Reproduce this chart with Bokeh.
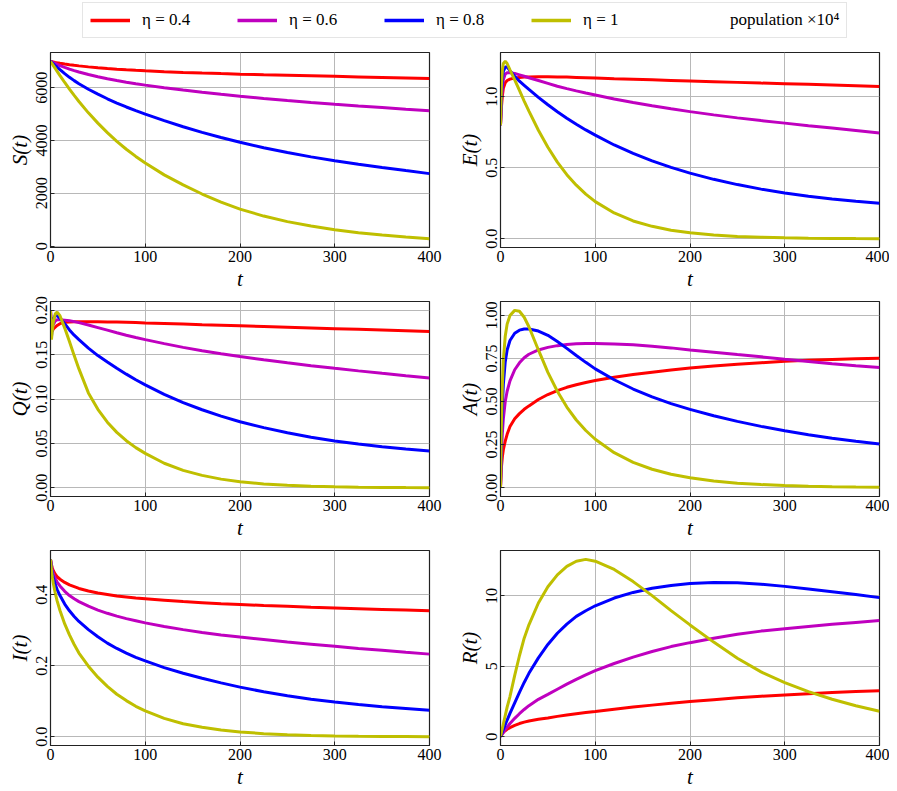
from bokeh.plotting import figure
from bokeh.models import Range1d, FixedTicker, PrintfTickFormatter, Legend, LegendItem
from bokeh.layouts import column, row
from bokeh.embed import file_html
from bokeh.resources import INLINE

# ---------------- data ----------------
T = [0, 1, 2, 3, 5, 7, 10, 15, 20, 25, 30, 40, 50, 60, 70, 80, 90, 100, 120, 140,
     160, 180, 200, 225, 250, 275, 300, 325, 350, 375, 400]

eta_labels = ["η = 0.4", "η = 0.6", "η = 0.8", "η = 1"]
extra_label = "population ×10⁴"
x_ticks = [0, 100, 200, 300, 400]

# S(t)
S_04 = [7000, 6992, 6984, 6976, 6961, 6947, 6928, 6898, 6872, 6850, 6829, 6791, 6757, 6728, 6702, 6680,
        6660, 6642, 6610, 6582, 6558, 6536, 6516, 6493, 6472, 6452, 6432, 6412, 6392, 6372, 6352]
S_06 = [7000, 6984, 6968, 6952, 6920, 6888, 6840, 6770, 6705, 6648, 6595, 6500, 6415, 6340, 6272, 6210,
        6153, 6100, 6002, 5912, 5828, 5750, 5678, 5595, 5518, 5445, 5376, 5311, 5249, 5188, 5128]
S_08 = [7000, 6968, 6936, 6904, 6840, 6777, 6684, 6535, 6395, 6270, 6155, 5945, 5757, 5583, 5422, 5272,
        5132, 5000, 4755, 4525, 4312, 4117, 3937, 3730, 3545, 3382, 3236, 3103, 2980, 2862, 2748]
S_10 = [7000, 6947, 6894, 6841, 6732, 6622, 6462, 6200, 5950, 5710, 5480, 5050, 4660, 4300, 3970, 3670,
        3400, 3150, 2700, 2320, 1975, 1670, 1405, 1140, 930, 765, 625, 510, 420, 345, 285]

# E(t)
E_04 = [0.80, 0.93, 1.01, 1.06, 1.10, 1.115, 1.125, 1.133, 1.137, 1.139, 1.140, 1.141, 1.141, 1.140, 1.139,
        1.137, 1.135, 1.133, 1.128, 1.124, 1.120, 1.116, 1.112, 1.107, 1.102, 1.097, 1.093, 1.088, 1.083,
        1.078, 1.073]
E_06 = [0.80, 0.97, 1.07, 1.12, 1.16, 1.17, 1.17, 1.165, 1.155, 1.145, 1.135, 1.115, 1.095, 1.075, 1.058,
        1.042, 1.027, 1.013, 0.985, 0.960, 0.937, 0.916, 0.896, 0.873, 0.852, 0.833, 0.815, 0.797, 0.780,
        0.763, 0.746]
E_08 = [0.80, 1.02, 1.13, 1.18, 1.21, 1.21, 1.185, 1.145, 1.110, 1.081, 1.052, 0.996, 0.944, 0.895, 0.850,
        0.807, 0.767, 0.730, 0.661, 0.602, 0.549, 0.503, 0.463, 0.419, 0.382, 0.350, 0.323, 0.300, 0.281,
        0.265, 0.250]
E_10 = [0.80, 1.08, 1.19, 1.235, 1.25, 1.235, 1.19, 1.12, 1.045, 0.97, 0.90, 0.765, 0.645, 0.54, 0.452,
        0.378, 0.315, 0.262, 0.182, 0.126, 0.088, 0.061, 0.043, 0.027, 0.017, 0.011, 0.007, 0.0045, 0.003,
        0.002, 0.0013]

# Q(t)
Q_04 = [0.20, 0.176, 0.177, 0.179, 0.181, 0.183, 0.185, 0.1865, 0.187, 0.1872, 0.1873, 0.1873, 0.1872,
        0.1870, 0.1868, 0.1865, 0.1862, 0.1858, 0.1852, 0.1845, 0.1838, 0.1832, 0.1826, 0.1818, 0.1810,
        0.1802, 0.1794, 0.1786, 0.1778, 0.1770, 0.1762]
Q_06 = [0.20, 0.175, 0.181, 0.184, 0.188, 0.1895, 0.1895, 0.1890, 0.1882, 0.1873, 0.1862, 0.1835, 0.1806,
        0.1777, 0.1748, 0.1720, 0.1694, 0.1670, 0.1625, 0.1583, 0.1545, 0.1511, 0.1479, 0.1443, 0.1409,
        0.1377, 0.1347, 0.1318, 0.1290, 0.1263, 0.1237]
Q_08 = [0.20, 0.170, 0.183, 0.190, 0.194, 0.194, 0.191, 0.185, 0.178, 0.172, 0.167, 0.1574, 0.149,
        0.1418, 0.1347, 0.1281, 0.1218, 0.116, 0.1054, 0.0961, 0.0880, 0.0808, 0.0745, 0.0678, 0.0620,
        0.0571, 0.0528, 0.0493, 0.0463, 0.0437, 0.0416]
Q_10 = [0.20, 0.167, 0.178, 0.187, 0.196, 0.198, 0.194, 0.180, 0.165, 0.149, 0.134, 0.107, 0.0885, 0.0740,
        0.0625, 0.0531, 0.0453, 0.0388, 0.0277, 0.0197, 0.0140, 0.0098, 0.0069, 0.0044, 0.0028, 0.0018,
        0.0011, 0.0007, 0.00045, 0.0003, 0.0002]

# A(t)
A_04 = [0.0, 0.12, 0.18, 0.22, 0.27, 0.31, 0.355, 0.40, 0.43, 0.455, 0.475, 0.512, 0.541, 0.564, 0.583,
        0.598, 0.611, 0.622, 0.641, 0.657, 0.671, 0.684, 0.695, 0.707, 0.717, 0.726, 0.734, 0.740, 0.745,
        0.749, 0.752]
A_06 = [0.0, 0.2, 0.32, 0.40, 0.50, 0.56, 0.62, 0.685, 0.725, 0.755, 0.775, 0.80, 0.815, 0.825, 0.832,
        0.836, 0.838, 0.838, 0.835, 0.83, 0.822, 0.812, 0.80, 0.787, 0.773, 0.76, 0.746, 0.733, 0.72,
        0.708, 0.698]
A_08 = [0.0, 0.3, 0.48, 0.60, 0.73, 0.80, 0.855, 0.897, 0.915, 0.922, 0.922, 0.91, 0.885, 0.849, 0.809,
        0.768, 0.728, 0.69, 0.627, 0.573, 0.527, 0.488, 0.455, 0.418, 0.385, 0.356, 0.330, 0.307, 0.287,
        0.269, 0.253]
A_10 = [0.0, 0.38, 0.60, 0.74, 0.88, 0.95, 1.0, 1.03, 1.025, 0.99, 0.935, 0.80, 0.67, 0.56, 0.468, 0.393,
        0.332, 0.281, 0.203, 0.147, 0.107, 0.078, 0.057, 0.039, 0.026, 0.018, 0.012, 0.008, 0.0055, 0.0037,
        0.0025]

# I(t)
I_04 = [0.50, 0.485, 0.475, 0.468, 0.458, 0.451, 0.444, 0.435, 0.428, 0.423, 0.418, 0.411, 0.405, 0.401,
        0.397, 0.394, 0.391, 0.389, 0.385, 0.381, 0.378, 0.375, 0.373, 0.370, 0.368, 0.365, 0.363, 0.361,
        0.359, 0.357, 0.355]
I_06 = [0.50, 0.48, 0.468, 0.459, 0.446, 0.436, 0.425, 0.41, 0.398, 0.389, 0.381, 0.368, 0.357, 0.348,
        0.34, 0.333, 0.327, 0.321, 0.311, 0.302, 0.294, 0.287, 0.281, 0.274, 0.267, 0.261, 0.255, 0.249,
        0.244, 0.238, 0.233]
I_08 = [0.50, 0.475, 0.46, 0.448, 0.43, 0.415, 0.398, 0.374, 0.355, 0.339, 0.325, 0.302, 0.282, 0.264,
        0.249, 0.236, 0.224, 0.214, 0.195, 0.179, 0.165, 0.152, 0.14, 0.127, 0.116, 0.106, 0.098, 0.091,
        0.085, 0.08, 0.075]
I_10 = [0.50, 0.47, 0.449, 0.432, 0.405, 0.383, 0.356, 0.318, 0.287, 0.26, 0.236, 0.199, 0.168, 0.142,
        0.120, 0.102, 0.086, 0.073, 0.052, 0.037, 0.027, 0.019, 0.0137, 0.0089, 0.0058, 0.0038, 0.0025,
        0.0016, 0.001, 0.0007, 0.0005]

# R(t)
R_04 = [0.0, 0.12, 0.22, 0.30, 0.42, 0.52, 0.64, 0.80, 0.93, 1.03, 1.11, 1.23, 1.33, 1.44, 1.54, 1.63,
        1.71, 1.78, 1.95, 2.10, 2.24, 2.37, 2.49, 2.63, 2.76, 2.87, 2.96, 3.05, 3.13, 3.20, 3.27]
R_06 = [0.0, 0.1, 0.2, 0.3, 0.5, 0.68, 0.93, 1.3, 1.63, 1.93, 2.2, 2.65, 3.0, 3.37, 3.73, 4.07, 4.39,
        4.69, 5.2, 5.65, 6.05, 6.4, 6.68, 7.0, 7.28, 7.5, 7.67, 7.83, 7.98, 8.12, 8.25]
R_08 = [0.0, 0.18, 0.35, 0.52, 0.85, 1.18, 1.65, 2.4, 3.15, 3.85, 4.5, 5.6, 6.55, 7.35, 8.0, 8.55, 8.95,
        9.3, 9.85, 10.25, 10.55, 10.75, 10.88, 10.95, 10.93, 10.83, 10.68, 10.5, 10.3, 10.1, 9.88]
R_10 = [0.0, 0.3, 0.6, 0.9, 1.5, 2.1, 2.85, 4.35, 5.75, 7.0, 7.95, 9.5, 10.65, 11.5, 12.1, 12.47, 12.6,
        12.47, 11.88, 11.02, 10.02, 8.96, 7.94, 6.72, 5.57, 4.6, 3.84, 3.2, 2.66, 2.2, 1.8]

S_ticks = [0, 2000, 4000, 6000]
E_ticks = [0.0, 0.5, 1.0]
Q_ticks = [0.00, 0.05, 0.10, 0.15, 0.20]
A_ticks = [0.00, 0.25, 0.50, 0.75, 1.00]
I_ticks = [0.0, 0.2, 0.4]
R_ticks = [0, 5, 10]

# ---------------- style ----------------
COLORS = ["#ff0000", "#bf00bf", "#0000ff", "#bfbf00"]
FONT = "Liberation Serif"
LW = 3


def make_panel(ylabel, series, yticks, fmt, left_col, last_row):
    lo = min(min(s) for s in series)
    hi = max(max(s) for s in series)
    pad = 0.05 * (hi - lo)
    p = figure(frame_width=379, frame_height=195,
               x_range=Range1d(0, 400), y_range=Range1d(lo - pad, hi + pad),
               output_backend="svg", toolbar_location=None,
               min_border_left=50,
               min_border_right=21 if left_col else 10,
               min_border_top=8,
               min_border_bottom=40 if last_row else 43,
               background_fill_color="white", border_fill_color="white")
    p.outline_line_color = "#222222"
    p.outline_line_width = 1.2
    for s, c in zip(series, COLORS):
        p.line(T, s, line_color=c, line_width=LW)
    p.xaxis.ticker = FixedTicker(ticks=x_ticks)
    p.yaxis.ticker = FixedTicker(ticks=yticks)
    p.yaxis.formatter = PrintfTickFormatter(format=fmt)
    p.xaxis.formatter = PrintfTickFormatter(format="%d")
    for ax in (p.xaxis, p.yaxis):
        ax.major_tick_in = 4
        ax.major_tick_out = 0
        ax.minor_tick_in = 0
        ax.minor_tick_out = 0
        ax.axis_line_color = "#222222"
        ax.major_tick_line_color = "#222222"
        ax.major_label_text_font = FONT
        ax.major_label_text_font_size = "16px"
        ax.major_label_text_color = "black"
        ax.axis_label_text_font = FONT
        ax.axis_label_text_font_size = "21px"
        ax.axis_label_text_font_style = "italic"
        ax.axis_label_text_color = "black"
        ax.major_label_standoff = 3
        ax.axis_label_standoff = 2
    p.yaxis.major_label_orientation = "vertical"
    p.xaxis.axis_label = "t"
    p.yaxis.axis_label = ylabel
    p.grid.grid_line_color = "#b8b8b8"
    p.grid.grid_line_width = 1
    p.grid.grid_line_alpha = 1
    return p


p_S = make_panel("S(t)", [S_04, S_06, S_08, S_10], S_ticks, "%d", True, False)
p_E = make_panel("E(t)", [E_04, E_06, E_08, E_10], E_ticks, "%.1f", False, False)
p_Q = make_panel("Q(t)", [Q_04, Q_06, Q_08, Q_10], Q_ticks, "%.2f", True, False)
p_A = make_panel("A(t)", [A_04, A_06, A_08, A_10], A_ticks, "%.2f", False, False)
p_I = make_panel("I(t)", [I_04, I_06, I_08, I_10], I_ticks, "%.1f", True, True)
p_R = make_panel("R(t)", [R_04, R_06, R_08, R_10], R_ticks, "%d", False, True)

# ---------------- legend strip ----------------
leg = figure(width=889, height=44, x_range=Range1d(0, 1), y_range=Range1d(0, 1),
             output_backend="svg", toolbar_location=None,
             min_border_left=0, min_border_right=0, min_border_top=0, min_border_bottom=0)
leg.axis.visible = False
leg.grid.visible = False
leg.outline_line_color = None
items = []
for lab, c in zip(eta_labels, COLORS):
    r = leg.line([-5, -4], [-5, -4], line_color=c, line_width=3.5)
    items.append(LegendItem(label=lab, renderers=[r]))
r_dummy = leg.line([-5, -4], [-5, -4], line_color="white", line_alpha=0)
items.append(LegendItem(label=extra_label, renderers=[r_dummy]))
legend = Legend(items=items, orientation="horizontal", location=(82, 6),
                glyph_width=40, glyph_height=20, label_standoff=12, label_width=80,
                label_height=20, spacing=15, padding=7, margin=0,
                label_text_font=FONT, label_text_font_size="17px", label_text_color="black",
                border_line_color="#cccccc", border_line_width=1,
                background_fill_color="white", background_fill_alpha=0.8)
leg.add_layout(legend, "center")

layout = column(leg, row(p_S, p_E), row(p_Q, p_A), row(p_I, p_R))

open("out.html", "w").write(file_html(layout, INLINE))
